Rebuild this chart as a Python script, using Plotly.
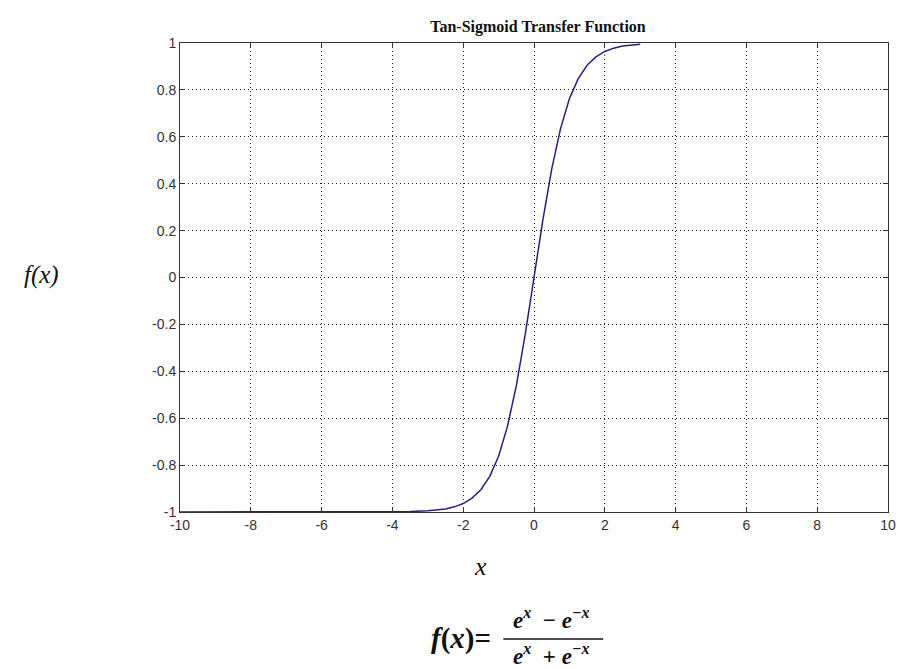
import plotly.graph_objects as go

# Curve values
x_vals = [-10, -9, -8, -7, -6, -5, -4, -3.5, -3, -2.75, -2.5, -2.25, -2, -1.75, -1.5, -1.25,
          -1, -0.75, -0.5, -0.25, 0, 0.25, 0.5, 0.75, 1, 1.25, 1.5, 1.75, 2, 2.25, 2.5, 2.75, 3]
y_vals = [-1.0, -1.0, -1.0, -1.0, -1.0, -1.0, -0.999, -0.998, -0.995, -0.992, -0.987, -0.978,
          -0.964, -0.941, -0.905, -0.848, -0.762, -0.635, -0.462, -0.245, 0.0, 0.245, 0.462,
          0.635, 0.762, 0.848, 0.905, 0.941, 0.964, 0.978, 0.987, 0.992, 0.995]

x_ticks = [-10, -8, -6, -4, -2, 0, 2, 4, 6, 8, 10]
y_ticks = [-1, -0.8, -0.6, -0.4, -0.2, 0, 0.2, 0.4, 0.6, 0.8, 1]
y_tick_text = ["-1", "-0.8", "-0.6", "-0.4", "-0.2", "0", "0.2", "0.4", "0.6", "0.8", "1"]

title_text = "Tan-Sigmoid Transfer Function"

fig = go.Figure()
fig.add_trace(go.Scatter(x=x_vals, y=y_vals, mode="lines",
                         line=dict(color="#23237e", width=1.5), showlegend=False))

axis_common = dict(
    showline=True, linecolor="#333333", linewidth=1, mirror="ticks",
    ticks="inside", ticklen=5, tickcolor="#333333",
    showgrid=True, gridcolor="#222222", gridwidth=1, griddash="1px,3px",
    zeroline=False,
    tickfont=dict(family="Liberation Sans, Arial, sans-serif", size=14, color="#333333"),
)

fig.update_xaxes(range=[-10, 10], tickvals=x_ticks, ticktext=[str(v) for v in x_ticks], **axis_common)
fig.update_yaxes(range=[-1, 1], tickvals=y_ticks, ticktext=y_tick_text, **axis_common)

fig.update_layout(
    width=904, height=669,
    margin=dict(l=180, r=8, t=43, b=157),
    paper_bgcolor="white", plot_bgcolor="white",
    title=dict(text="<b>" + title_text + "</b>", x=538 / 904, xanchor="center",
               y=1 - 26 / 669, yanchor="middle",
               font=dict(family="Liberation Serif, Times New Roman, serif", size=16, color="#111111")),
)

serif = "Liberation Serif, Times New Roman, serif"

def py(p):
    return (512 - p) / 469

def px(p):
    return (p - 180) / 716

# Axis labels
fig.add_annotation(text="<i>f(x)</i>", xref="paper", yref="paper",
                   x=px(40), y=py(275), showarrow=False,
                   xanchor="center", yanchor="middle", font=dict(family=serif, size=25, color="#111111"))
fig.add_annotation(text="<i>x</i>", xref="paper", yref="paper",
                   x=px(484), y=py(566), showarrow=False,
                   xanchor="center", yanchor="middle", font=dict(family=serif, size=26, color="#111111"))

# Formula
fig.add_annotation(text="<b><i>f</i>(<i>x</i>)=</b>", xref="paper", yref="paper",
                   x=px(464), y=py(638), showarrow=False, xanchor="center", yanchor="middle",
                   font=dict(family=serif, size=29, color="#111111"))
fig.add_annotation(text="<b><i>e<sup>x</sup></i>  − <i>e<sup>−x</sup></i></b>", xref="paper", yref="paper",
                   x=px(556), y=py(618), showarrow=False, xanchor="center", yanchor="middle",
                   font=dict(family=serif, size=23, color="#111111"))
fig.add_annotation(text="<b><i>e<sup>x</sup></i>  + <i>e<sup>−x</sup></i></b>", xref="paper", yref="paper",
                   x=px(556), y=py(654), showarrow=False, xanchor="center", yanchor="middle",
                   font=dict(family=serif, size=23, color="#111111"))
fig.add_shape(type="line", xref="paper", yref="paper", x0=px(507), x1=px(608),
              y0=py(639), y1=py(639), line=dict(color="#111111", width=1.5))

fig.write_html("out.html")
